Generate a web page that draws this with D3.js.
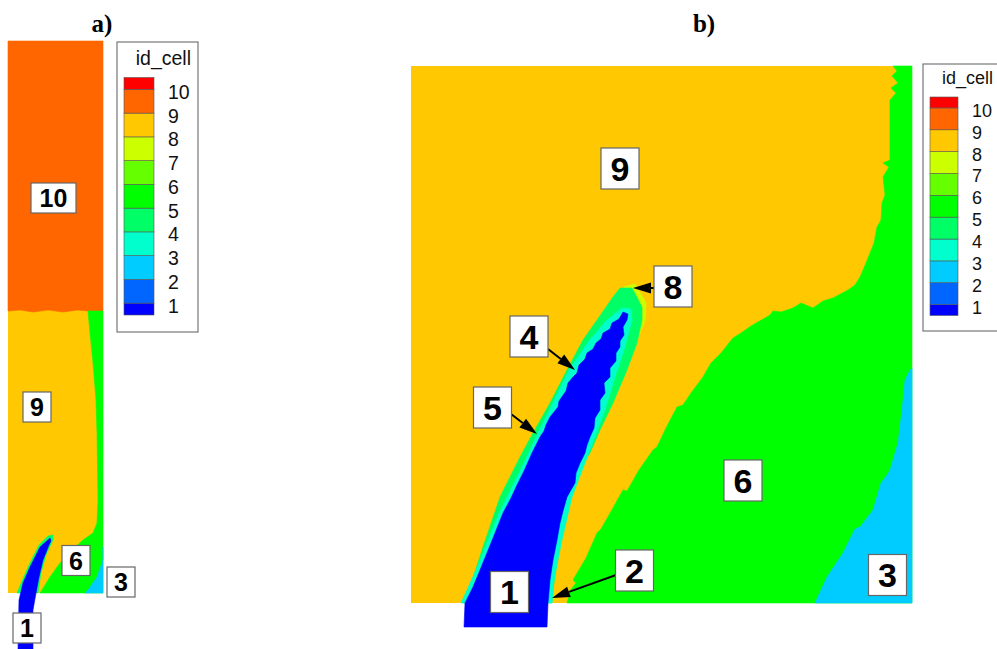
<!DOCTYPE html>
<html>
<head>
<meta charset="utf-8">
<script src="https://cdn.jsdelivr.net/npm/d3@7/dist/d3.min.js"></script>
<style>
  html, body { margin: 0; padding: 0; background: #fff; }
  svg { display: block; }
</style>
</head>
<body>
<svg id="chart" width="997" height="649"></svg>
<script>
// ---- contour levels and colour bands (id_cell) ----
const levels = [1, 2, 3, 4, 5, 6, 7, 8, 9, 10];
const bandColors = ["#0000ff", "#0066ff", "#00ccff", "#00ffcc", "#00ff66",
                    "#00ff00", "#66ff00", "#ccff00", "#ffc800", "#ff6600", "#ff0000"];

// ---- panel a: tall channel, region outlines in model units ----
const aDomain = { x: [0, 95], y: [0, 552] };
const aCell10 = [[0,282],[12,283],[25,281],[40,283],[55,281],[70,283],[80,282],[95,282],[95,552],[0,552]];
const aCell6  = [[80,282],[82,260],[85,230],[88,193],[89,160],[90,93],[89,70],[85,60],[75,53],[64,43],[52,30],[42,16],[32,0],[95,0],[95,282]];
const aCell3  = [[95,46],[95,33],[89,16],[80,3],[77,0],[95,0]];
const aCell5  = [[9,0],[14,12],[21,28],[31,48],[40,57],[45,58],[45,53],[38,38],[33,20],[30,0]];
const aCell1  = [[10,-56],[11,-7],[15,10],[22,26],[32,46],[42,55],[43,52],[41,48],[35,33],[31,16],[28,0],[25,-17],[25,-56]];

// ---- panel b: square section, region outlines in model units ----
const bDomain = { x: [0, 501], y: [0, 537] };
const bCell6 = [[156,0],[160,14],[165,20],[162,23],[175,45],[186,70],[190,74],[198,88],[212,113],[216,112],
                [228,133],[242,153],[246,156],[255,175],[266,196],[272,198],[280,210],[292,226],[300,240],
                [310,250],[322,265],[330,270],[340,277],[359,288],[362,292],[370,291],[382,295],[390,300],
                [402,295],[412,302],[422,305],[437,313],[444,318],[449,326],[455,340],[459,350],[463,360],
                [466,376],[470,383],[471,400],[474,408],[472,426],[478,436],[472,440],[479,443],[479,503],
                [485,510],[480,515],[487,520],[481,527],[486,532],[482,537],[501,537],[501,0]];
const bCell3 = [[501,235],[499,233],[494,223],[491,193],[487,160],[479,133],[476,128],[470,120],[462,93],
                [449,76],[444,74],[432,50],[416,26],[404,0],[501,0]];
const bCell8 = [[205,303],[213,316],[224,319],[235,300],[234,283],[226,262]];
const bCell5 = [[52,0],[59,16],[72,56],[89,106],[109,146],[122,170],[139,200],[156,233],[172,263],[186,283],
                [202,306],[209,315],[221,315],[231,296],[231,283],[226,260],[216,233],[202,200],[189,173],
                [179,150],[172,140],[159,106],[149,63],[142,13],[141,0]];
const bCell4 = [[50,0],[65,33],[88,90],[109,132],[125,166],[135,186],[158,233],[178,262],[196,283],[211,295],
                [220,294],[221,283],[214,256],[204,226],[194,193],[184,166],[174,140],[161,106],[151,63],
                [143,23],[141,0]];
const bCell1 = [[53,-24],[54,0],[62,16],[69,33],[80,60],[92,90],[100,105],[106,118],[113,132],[121,150],
                [129,166],[133,172],[135,178],[139,186],[147,196],[148,202],[155,212],[157,220],[162,226],
                [166,230],[168,238],[174,244],[176,250],[182,254],[185,260],[190,264],[192,270],[199,274],
                [201,280],[208,284],[212,291],[217,289],[216,283],[212,276],[213,268],[209,262],[209,256],
                [205,250],[205,242],[199,235],[199,226],[193,220],[194,210],[189,203],[189,193],[184,185],
                [183,175],[179,166],[176,158],[174,150],[169,140],[165,130],[164,120],[156,106],[152,92],
                [149,80],[146,63],[142,43],[139,23],[137,0],[136,-24]];

// ---- region labels (text, anchor in model units) ----
const aLabels = [
  { t: "10", x: 45.5, y: 395 }, { t: "9", x: 29, y: 186 }, { t: "6", x: 68, y: 32.5 },
  { t: "3", x: 113, y: 11 },    { t: "1", x: 19, y: -35 }
];
const bLabels = [
  { t: "9", x: 209, y: 434.5 }, { t: "8", x: 262, y: 316.5 }, { t: "4", x: 118, y: 266.5 },
  { t: "5", x: 81.5, y: 195.5 }, { t: "1", x: 98.5, y: 11 },  { t: "2", x: 223.5, y: 32.5 },
  { t: "6", x: 332, y: 122.5 }, { t: "3", x: 476.5, y: 28 }
];
// leader arrows: [from, to] in model units
const bArrows = [
  [[243,315],[222,315]],
  [[137,254],[164,233]],
  [[100,189],[126,169]],
  [[205,28],[141,5]]
];

const svg = d3.select("#chart");
const color = d3.scaleThreshold().domain(levels).range(bandColors);
const cellColor = id => color(id - 0.5);
const FONT = "Arial, 'Liberation Sans', Helvetica, sans-serif";

function drawPanel(opts) {
  const sx = d3.scaleLinear().domain(opts.domain.x).range(opts.px);
  const sy = d3.scaleLinear().domain(opts.domain.y).range(opts.py);
  const g = svg.append("g");
  const line = d3.line().x(d => sx(d[0])).y(d => sy(d[1]));

  // background cell covering the full section
  g.append("rect")
    .attr("x", sx(opts.domain.x[0])).attr("y", sy(opts.domain.y[1]))
    .attr("width", sx(opts.domain.x[1]) - sx(opts.domain.x[0]))
    .attr("height", sy(opts.domain.y[0]) - sy(opts.domain.y[1]))
    .attr("fill", cellColor(opts.baseId));

  g.selectAll("path.cell").data(opts.cells).join("path")
    .attr("class", "cell")
    .attr("d", d => line(d.pts) + "Z")
    .attr("fill", d => cellColor(d.id))
    .attr("stroke", d => cellColor(d.id))
    .attr("stroke-width", 0.6)
    .attr("stroke-linejoin", "round");

  // arrows
  (opts.arrows || []).forEach(([a, b]) => {
    const x1 = sx(a[0]), y1 = sy(a[1]), x2 = sx(b[0]), y2 = sy(b[1]);
    const ang = Math.atan2(y2 - y1, x2 - x1);
    const L = opts.headLen, W = opts.headW;
    const bx = x2 - L * Math.cos(ang), by = y2 - L * Math.sin(ang);
    g.append("line").attr("x1", x1).attr("y1", y1).attr("x2", bx).attr("y2", by)
      .attr("stroke", "#000").attr("stroke-width", 2);
    const nx = -Math.sin(ang), ny = Math.cos(ang);
    g.append("path")
      .attr("d", `M${x2},${y2}L${bx + nx * W},${by + ny * W}L${bx - nx * W},${by - ny * W}Z`)
      .attr("fill", "#000");
  });

  // label boxes
  opts.labels.forEach(l => {
    const w = l.t.length > 1 ? opts.boxW2 : opts.boxW, h = opts.boxH;
    const cx = sx(l.x), cy = sy(l.y);
    g.append("rect").attr("x", cx - w / 2).attr("y", cy - h / 2)
      .attr("width", w).attr("height", h)
      .attr("fill", "#fff").attr("stroke", "#666").attr("stroke-width", 1.2);
    g.append("text").attr("x", cx).attr("y", cy + opts.labelSize * 0.36)
      .attr("text-anchor", "middle").attr("font-family", FONT)
      .attr("font-weight", "bold").attr("font-size", opts.labelSize)
      .attr("fill", "#000").text(l.t);
  });

  // title
  svg.append("text").attr("x", opts.title.x).attr("y", opts.title.y)
    .attr("text-anchor", "middle")
    .attr("font-family", "'Liberation Serif', 'Times New Roman', serif")
    .attr("font-weight", "bold").attr("font-size", 25).text(opts.title.t);
}

function drawLegend(o) {
  const g = svg.append("g");
  const ly = d3.scaleLinear().domain([0.5, 10.5]).range([o.bottom, o.top]);
  g.append("rect").attr("x", o.box[0]).attr("y", o.box[1]).attr("width", o.box[2]).attr("height", o.box[3])
    .attr("fill", "#fff").attr("stroke", "#777").attr("stroke-width", 1.2);
  g.append("text").attr("x", o.titleX).attr("y", o.titleY).attr("text-anchor", "end")
    .attr("font-family", FONT).attr("font-size", o.font).attr("fill", "#111").text("id_cell");
  const edges = [0.5, ...levels, 10.5];
  const bands = bandColors.map((c, i) => ({ c, lo: edges[i], hi: edges[i + 1] }));
  g.selectAll("rect.band").data(bands).join("rect").attr("class", "band")
    .attr("x", o.barX).attr("width", o.barW)
    .attr("y", d => ly(d.hi)).attr("height", d => ly(d.lo) - ly(d.hi))
    .attr("fill", d => d.c).attr("stroke", "#555").attr("stroke-width", 0.6);
  g.selectAll("text.tick").data(levels).join("text").attr("class", "tick")
    .attr("x", o.textX).attr("y", d => ly(d) + o.font * 0.36 + 2.5)
    .attr("font-family", FONT).attr("font-size", o.font).attr("fill", "#111")
    .text(d => d);
}

drawPanel({
  domain: aDomain, px: [8, 103], py: [593, 41], baseId: 9,
  cells: [{ id: 10, pts: aCell10 }, { id: 6, pts: aCell6 }, { id: 3, pts: aCell3 },
          { id: 5, pts: aCell5 }, { id: 1, pts: aCell1 }],
  labels: aLabels, boxW: 28, boxW2: 45, boxH: 30, labelSize: 25,
  title: { t: "a)", x: 102, y: 32 }
});
drawLegend({ box: [117, 42, 81, 290], top: 77.5, bottom: 315, barX: 124, barW: 30,
             textX: 168, titleX: 191, titleY: 65, font: 19.5 });

drawPanel({
  domain: bDomain, px: [411, 912], py: [603, 66], baseId: 9,
  cells: [{ id: 6, pts: bCell6 }, { id: 3, pts: bCell3 }, { id: 8, pts: bCell8 },
          { id: 5, pts: bCell5 }, { id: 4, pts: bCell4 }, { id: 1, pts: bCell1 }],
  labels: bLabels, boxW: 38, boxW2: 50, boxH: 41, labelSize: 34,
  arrows: bArrows, headLen: 18, headW: 5.5,
  title: { t: "b)", x: 704, y: 32 }
});
drawLegend({ box: [923, 64, 80, 267], top: 97, bottom: 315.5, barX: 930, barW: 28,
             textX: 972, titleX: 993, titleY: 84, font: 18 });
</script>
</body>
</html>
